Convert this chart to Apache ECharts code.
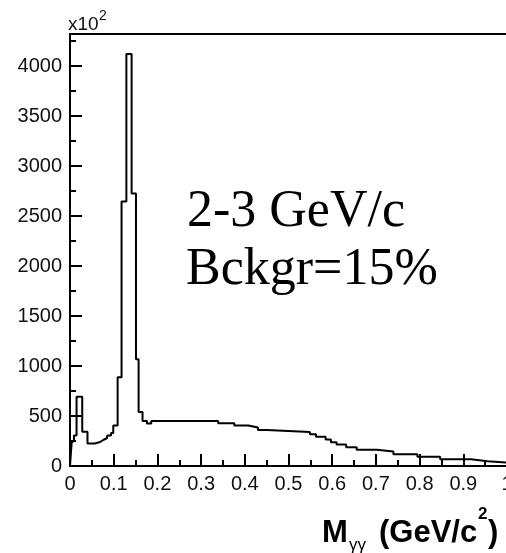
<!DOCTYPE html>
<html>
<head>
<meta charset="utf-8">
<script src="https://cdn.jsdelivr.net/npm/echarts@6/dist/echarts.min.js"></script>
<style>
  html, body { margin: 0; padding: 0; background: #fff; }
  #chart { width: 506px; height: 553px; }
</style>
</head>
<body>
<div id="chart"></div>
<script>
// Diphoton invariant mass spectrum, 2-3 GeV/c, counts in units of 10^2.
// Lower edge of each histogram bin (GeV/c^2); the last bin closes at xMax.
const binEdges = [
  0, 0.004, 0.009, 0.015, 0.028, 0.040, 0.057, 0.069, 0.076, 0.085,
  0.094, 0.099, 0.109, 0.118, 0.129, 0.141, 0.151, 0.157, 0.166, 0.176,
  0.186, 0.339, 0.376, 0.408, 0.430, 0.450, 0.549, 0.563, 0.585, 0.597,
  0.610, 0.632, 0.656, 0.702, 0.740, 0.795, 0.847, 0.918, 0.955
];
// Entries per bin (x10^2).
const binCounts = [
  0, 245, 305, 693, 343, 225, 240, 260, 280, 305,
  330, 405, 887, 2645, 4120, 2725, 1067, 540, 450, 425,
  450, 427, 405, 385, 360, 340, 317, 293, 265, 238,
  215, 188, 163, 145, 118, 93, 68, 48, 35
];
const xMin = 0, xMax = 1;
const yMin = 0, yMax = 4320;
const xMajorStep = 0.1, xMinorStep = 0.05;
const yMajorStep = 500, yMinorStep = 250;

const titleLines = ['2-3 GeV/c', 'Bckgr=15%'];

// Step outline: each point is a bin's lower edge and its count,
// plus a closing point at the upper edge of the last bin.
const histData = binEdges.map((e, i) => [e, binCounts[i]]);
histData.push([xMax, binCounts[binCounts.length - 1]]);

const sans = '"Liberation Sans", Arial, sans-serif';
const serif = '"Liberation Serif", "Times New Roman", serif';
const ink = '#000';

const axisBase = {
  axisLine: { show: true, lineStyle: { color: ink, width: 2 } },
  splitLine: { show: false }
};

const chart = echarts.init(document.getElementById('chart'), null, { renderer: 'canvas' });

chart.setOption({
  animation: false,
  backgroundColor: '#fff',
  grid: {
    left: 70, top: 34, width: 437, height: 432,
    show: true, borderColor: ink, borderWidth: 2,
    containLabel: false, outerBoundsMode: 'none'
  },
  xAxis: [
    Object.assign({
      type: 'value', min: xMin, max: xMax, interval: xMajorStep,
      axisTick: { show: true, inside: true, length: 12, lineStyle: { color: ink, width: 2 } },
      axisLabel: {
        show: true, margin: 8, color: '#111',
        fontFamily: sans, fontSize: 20,
        formatter: v => String(Math.round(v * 10) / 10)
      }
    }, axisBase),
    Object.assign({
      type: 'value', min: xMin, max: xMax, interval: xMinorStep, position: 'bottom',
      axisTick: { show: true, inside: true, length: 6, lineStyle: { color: ink, width: 2 } },
      axisLabel: { show: false }
    }, axisBase)
  ],
  yAxis: [
    Object.assign({
      type: 'value', min: yMin, max: yMax, interval: yMajorStep,
      axisTick: { show: true, inside: true, length: 12, lineStyle: { color: ink, width: 2 } },
      axisLabel: {
        show: true, margin: 8, color: '#111', showMaxLabel: false,
        fontFamily: sans, fontSize: 20,
        formatter: v => String(v)
      }
    }, axisBase),
    Object.assign({
      type: 'value', min: yMin, max: yMax, interval: yMinorStep, position: 'left',
      axisTick: { show: true, inside: true, length: 6, lineStyle: { color: ink, width: 2 } },
      axisLabel: { show: false }
    }, axisBase)
  ],
  series: [{
    type: 'line',
    xAxisIndex: 0,
    yAxisIndex: 0,
    step: 'end',
    showSymbol: false,
    symbol: 'none',
    lineStyle: { color: ink, width: 2 },
    data: histData,
    clip: true
  }],
  graphic: [
    // exponent of the vertical scale
    { type: 'text', style: { x: 68, y: 25, text: 'x10', font: '19px ' + sans, fill: '#111', align: 'left', verticalAlign: 'middle' } },
    { type: 'text', style: { x: 99, y: 16, text: '2', font: '14px ' + sans, fill: '#111', align: 'left', verticalAlign: 'middle' } },
    // momentum window and background fraction
    { type: 'text', style: { x: 187, y: 212, text: titleLines[0], font: '52px ' + serif, fill: ink, align: 'left', verticalAlign: 'middle' } },
    { type: 'text', style: { x: 186, y: 270, text: titleLines[1], font: '52px ' + serif, fill: ink, align: 'left', verticalAlign: 'middle' } },
    // x-axis title: M_γγ (GeV/c^2)
    { type: 'text', style: { x: 322, y: 533, text: 'M', font: 'bold 31px ' + sans, fill: ink, align: 'left', verticalAlign: 'middle' } },
    { type: 'text', style: { x: 349, y: 545, text: 'γγ', font: '17px ' + sans, fill: ink, align: 'left', verticalAlign: 'middle' } },
    { type: 'text', style: { x: 379, y: 533, text: '(GeV/c', font: 'bold 31px ' + sans, fill: ink, align: 'left', verticalAlign: 'middle' } },
    { type: 'text', style: { x: 478, y: 514, text: '2', font: 'bold 17px ' + sans, fill: ink, align: 'left', verticalAlign: 'middle' } },
    { type: 'text', style: { x: 488, y: 533, text: ')', font: 'bold 31px ' + sans, fill: ink, align: 'left', verticalAlign: 'middle' } }
  ]
});
</script>
</body>
</html>
